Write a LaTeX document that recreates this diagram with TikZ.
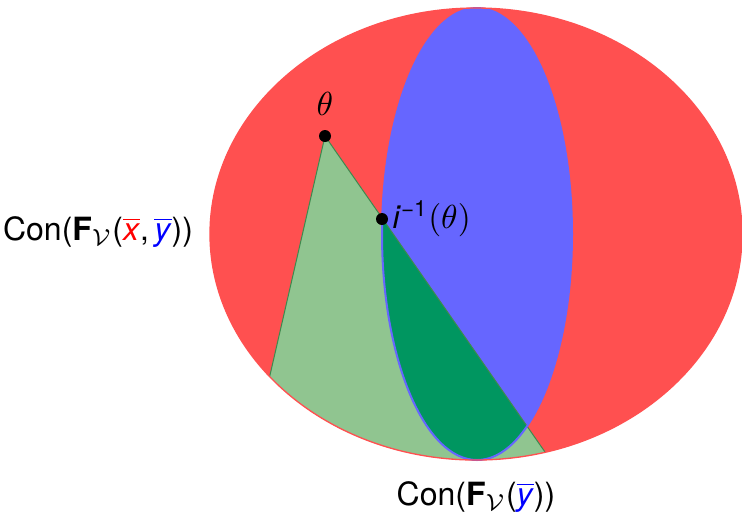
\documentclass[tikz,border=0pt]{standalone}
\usepackage{amsmath,amssymb}
\usepackage{fontspec}
\setmainfont{TeX Gyre Heros}
\setsansfont{TeX Gyre Heros}
\usepackage{tikz}
\usetikzlibrary{positioning,calc}
\usepackage{xcolor}
\definecolor{conred}{HTML}{FF5050}
\definecolor{conblue}{HTML}{6666FF}
\definecolor{conlight}{HTML}{90C590}
\definecolor{condark}{HTML}{009660}
\definecolor{conedge}{HTML}{3E8A4E}
\tikzset{
  pt/.style={circle, fill=black, inner sep=0pt, minimum size=3.6pt},
  lbl/.style={font=\fontsize{9.6}{11.5}\selectfont, inner sep=1pt},
  chord/.style={draw=conedge, line width=0.3pt},
}
\newcommand{\redset}{(476,234) ellipse [x radius=79.8pt, y radius=67.8pt]}
\newcommand{\blueset}{(477,234) ellipse [x radius=28.5pt, y radius=67.8pt]}

\begin{document}
\begin{tikzpicture}[x=0.3pt, y=-0.3pt]
\useasboundingbox (0,0) rectangle (742,514);
% the two cones
\fill[conred] \redset;
\fill[conblue] \blueset;

\coordinate (theta) at (325,136);
\coordinate (foot1) at (270,375);
\coordinate (foot2) at (545,452);
\coordinate (far1) at ($(theta)!1.3!(foot1)$);
\coordinate (far2) at ($(theta)!1.2!(foot2)$);

% green wedge, cut by the red cone
\begin{scope}
  \clip \redset;
  \fill[conlight] (theta) -- (far1) -- (far2) -- cycle;
  \begin{scope}
    \clip \blueset;
    \fill[condark] (theta) -- (far1) -- (far2) -- cycle;
  \end{scope}
  \draw[chord] (theta) -- (far1);
  \draw[chord] (theta) -- (far2);
\end{scope}
\draw[conblue, line width=0.6pt] \blueset;
\draw[conred, line width=0.4pt] \redset;

\node[pt] (thetapt) at (theta) {};
\node[pt] (invpt) at (382,219) {};
\node[lbl, above=3pt of thetapt] (thetalbl) {$\theta$};
\node[lbl, right=0pt of invpt] (invlbl) {\textit{i}\textsuperscript{−1}$(\theta)$};

\node[lbl] (conxy) at (98,232)
  {Con(\textbf{F}$_{\mathcal{V}}$(\textcolor{red}{$\overline{\text{\textit{x}}}$},\,%
\textcolor{blue}{$\overline{\text{\textit{y}}}$}))};
\node[lbl] (cony) at (476,497)
  {Con(\textbf{F}$_{\mathcal{V}}$(\textcolor{blue}{$\overline{\text{\textit{y}}}$}))};
\end{tikzpicture}
\end{document}
